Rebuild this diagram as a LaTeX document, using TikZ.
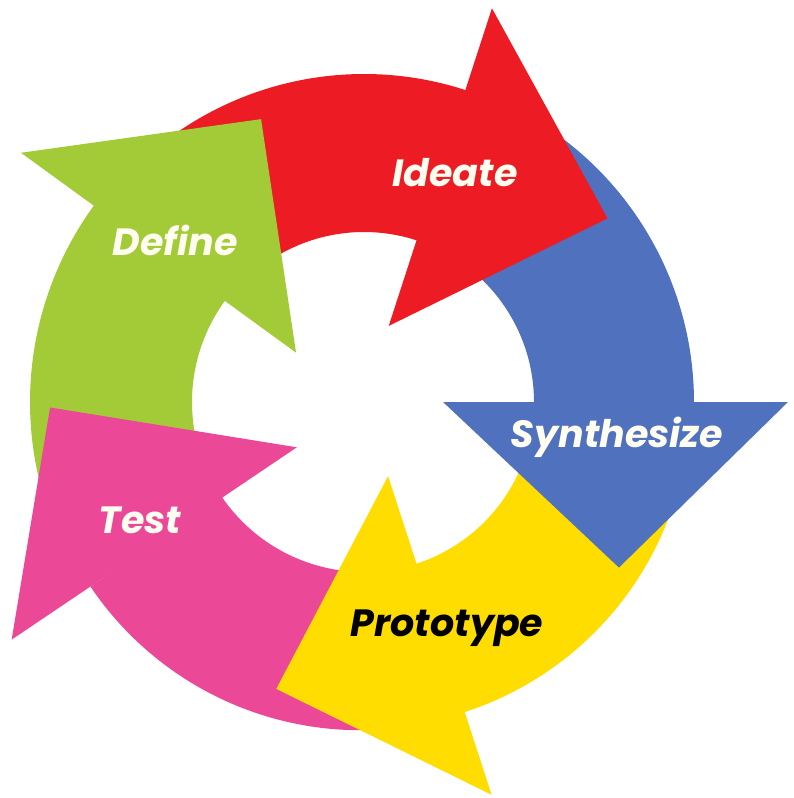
\documentclass[tikz,border=0pt]{standalone}
\usepackage{fontspec}
\usepackage{tikz}
\usepackage{xcolor}
\usetikzlibrary{positioning}
\newfontfamily\stagefont{Poppins}
\definecolor{ideatered}{RGB}{237, 28, 36}
\definecolor{synthblue}{RGB}{80, 114, 190}
\definecolor{protoyellow}{RGB}{255, 221, 0}
\definecolor{testpink}{RGB}{236, 72, 152}
\definecolor{definegreen}{RGB}{163, 203, 56}
\definecolor{stagewhite}{RGB}{255, 253, 240}
\tikzset{
    stagelabel/.style={font=\stagefont\fontsize{38}{44}\selectfont\bfseries\itshape, text=stagewhite, inner sep=0pt},
    ideatearrow/.style={fill=ideatered},
    syntharrow/.style={fill=synthblue},
    protoarrow/.style={fill=protoyellow},
    testarrow/.style={fill=testpink},
    definearrow/.style={fill=definegreen}
}

\begin{document}
\begin{tikzpicture}[x=1pt, y=1pt]
    \useasboundingbox (-364,-396) rectangle (430,402);

    % Bodies of the five arrows (each tail hides under the head before it)
    \fill[ideatearrow] (127:170) arc[start angle=127, end angle=70, radius=170] -- (70:328) arc[start angle=70, end angle=127, radius=328] -- cycle;
    \fill[syntharrow] (55:170) arc[start angle=55, end angle=-2, radius=170] -- (-2:330) arc[start angle=-2, end angle=55, radius=330] -- cycle;
    \fill[protoarrow] (-17:170) arc[start angle=-17, end angle=-74, radius=170] -- (-74:326) arc[start angle=-74, end angle=-17, radius=326] -- cycle;
    \fill[testarrow] (-89:170) arc[start angle=-89, end angle=-146, radius=172] -- (-146:330) arc[start angle=-146, end angle=-89, radius=326] -- cycle;
    \fill[definearrow] (-161:172) arc[start angle=-161, end angle=-218, radius=172] -- (142:334) arc[start angle=-218, end angle=-161, radius=334] -- cycle;

    % Heads, drawn over the next body
    \fill[ideatearrow] (72:80) -- (37:305) -- (72:414) -- cycle;
    \fill[syntharrow] (0:79) -- (-33:304) -- (0:424) -- cycle;
    \fill[protoarrow] (-72:78) -- (-107:300) -- (-72:413) -- cycle;
    \fill[testarrow] (-146:81) -- (-179:314) -- (-146:425) -- cycle;
    \fill[definearrow] (144:84) -- (110:301) -- (144:424) -- cycle;

    % Stage names
    \node[stagelabel] (ideate) at (91,229) {Ideate};
    \node[stagelabel] (synth) at (253,-35) {Synthesize};
    \node[stagelabel, text=black] (proto) at (83,-226) {Prototype};
    \node[stagelabel] (test) at (-224,-118) {Test};
    \node[stagelabel] (define) at (-189,162) {Define};
\end{tikzpicture}
\end{document}
